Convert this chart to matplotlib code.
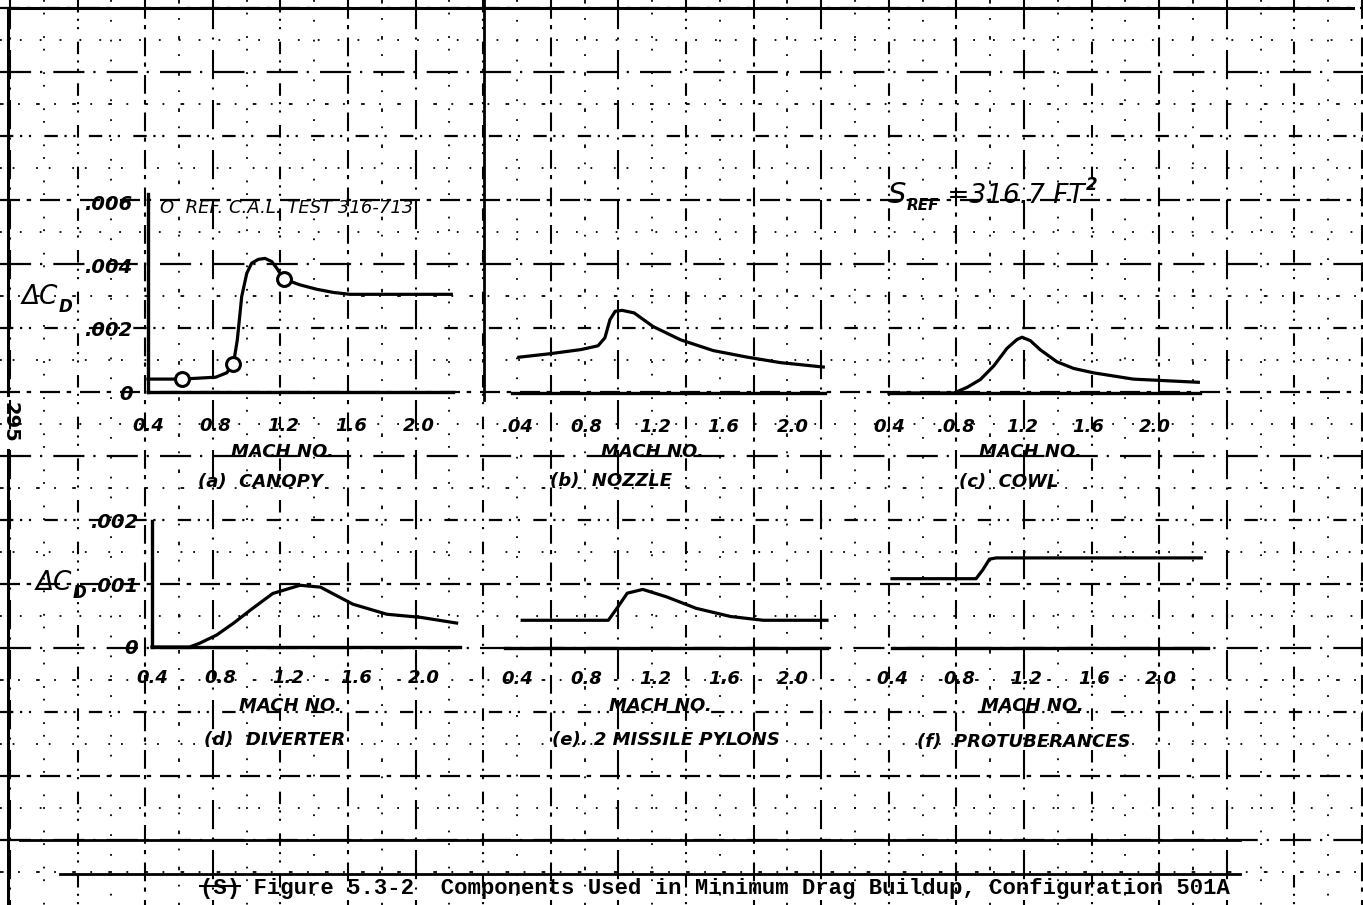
import matplotlib
matplotlib.use("Agg")
import matplotlib.pyplot as plt
import numpy as np

plt.rcParams['font.family'] = ['Liberation Sans Narrow', 'DejaVu Sans']
plt.rcParams['font.style'] = 'italic'
plt.rcParams['font.weight'] = 'bold'

W, H = 1363, 905

# ---- data (Mach no. vs delta CD) ----
mach_ticks = [0.4, 0.8, 1.2, 1.6, 2.0]

# (a) canopy
mach_a = [0.4, 0.6, 0.8, 0.865, 0.904, 0.927, 0.953, 0.983, 1.012, 1.051, 1.091,
          1.13, 1.16, 1.2, 1.297, 1.396, 1.494, 1.592, 2.19]
cd_a = [0.00041, 0.00041, 0.00047, 0.00061, 0.00089, 0.00165, 0.00303, 0.00377,
        0.00409, 0.00421, 0.00424, 0.00414, 0.00393, 0.00359, 0.0034, 0.00326,
        0.00316, 0.0031, 0.0031]
ref_mach_a = [0.6, 0.9, 1.2]
ref_cd_a = [0.00041, 0.00089, 0.00359]
labels_a = ["0.4", "0.8", "1.2", "1.6", "2.0"]
yticks_a = [0, 0.002, 0.004, 0.006]
ylabels_a = ["0", ".002", ".004", ".006"]

# (b) nozzle
mach_b = [0.41, 0.59, 0.77, 0.87, 0.91, 0.94, 0.97, 1.01, 1.08, 1.19, 1.35, 1.54,
          1.74, 1.93, 2.18]
cd_b = [0.00113, 0.00124, 0.00137, 0.00149, 0.00174, 0.00232, 0.00258, 0.00261,
        0.00253, 0.0021, 0.00168, 0.00134, 0.00113, 0.00096, 0.00082]
labels_b = [".04", "0.8", "1.2", "1.6", "2.0"]

# (c) cowl
mach_c = [0.4, 0.79, 0.87, 0.95, 1.03, 1.11, 1.17, 1.2, 1.25, 1.31, 1.41, 1.51,
          1.63, 1.87, 2.26]
cd_c = [0.0, 0.0, 0.00018, 0.00043, 0.00086, 0.00142, 0.0017, 0.00177, 0.00166,
        0.00137, 0.00099, 0.00078, 0.00064, 0.00044, 0.00034]
labels_c = ["0.4", ".0.8", "1.2", "1.6", "2.0"]

# (d) diverter
mach_d = [0.4, 0.62, 0.68, 0.78, 0.88, 0.98, 1.11, 1.27, 1.39, 1.58, 1.78, 1.98, 2.19]
cd_d = [0.0, 0.0, 0.00006, 0.00019, 0.00038, 0.00059, 0.00085, 0.00098, 0.00095,
        0.00068, 0.00052, 0.00047, 0.00038]
labels_d = ["0.4", "0.8", "1.2", "1.6", "2.0"]
yticks_d = [0, 0.001, 0.002]
ylabels_d = ["0", ".001", ".002"]

# (e) 2 missile pylons
mach_e = [0.43, 0.93, 0.98, 1.04, 1.13, 1.27, 1.44, 1.64, 1.83, 2.2]
cd_e = [0.00044, 0.00044, 0.00063, 0.00087, 0.00093, 0.00081, 0.00063, 0.0005,
        0.00044, 0.00044]
labels_e = ["0.4", "0.8", "1.2", "1.6", "2.0"]

# (f) protuberances
mach_f = [0.4, 0.9, 0.94, 0.98, 1.02, 2.24]
cd_f = [0.0011, 0.0011, 0.00124, 0.00141, 0.00143, 0.00143]
labels_f = ["0.4", "0.8", "1.2", "1.6", "2.0"]

fig = plt.figure(figsize=(W / 100, H / 100), dpi=100)
fig.patch.set_facecolor('white')

# background "graph paper" axes in pixel coordinates
bg = fig.add_axes([0, 0, 1, 1])
bg.set_xlim(0, W)
bg.set_ylim(H, 0)
bg.axis('off')

major_styles = [(0, (9, 3, 2, 4)), (0, (14, 4, 1, 5)), (0, (6, 3, 1, 3, 1, 6))]
minor_styles = [(0, (1, 10)), (0, (2, 8, 1, 9)), (0, (1, 6, 1, 12))]
for k, y in enumerate(np.arange(8, 880, 32)):
    if k % 2 == 0:
        bg.plot([0, W], [y, y], color='black', lw=1.6,
                ls=major_styles[k // 2 % 3], zorder=0)
    else:
        bg.plot([0, W], [y, y], color='black', lw=1.3,
                ls=minor_styles[k // 2 % 3], zorder=0)
for k, x in enumerate(np.arange(10, W, 33.8)):
    if k % 2 == 0:
        bg.plot([x, x], [0, H], color='black', lw=1.5,
                ls=major_styles[(k // 2 + 1) % 3], zorder=0)
    else:
        bg.plot([x, x], [0, H], color='black', lw=1.3,
                ls=minor_styles[(k // 2 + 2) % 3], zorder=0)
# page frame / heavy bottom form lines
bg.plot([8, 8], [8, 395], color='black', lw=2.2)
bg.plot([8, 8], [450, H], color='black', lw=2.2)
bg.plot([8, W - 10], [8, 8], color='black', lw=2.2)
bg.plot([20, 1240], [840, 840], color='black', lw=2.0)
bg.plot([60, 1240], [874, 874], color='black', lw=2.0)
bg.plot([484, 484], [0, 400], color='black', lw=2.0)


def panel(x0, x1, y_top, y_bot, xlim, ylim, xlabels, pad, left=False):
    ax = fig.add_axes([x0 / W, 1 - y_bot / H, (x1 - x0) / W, (y_bot - y_top) / H])
    ax.patch.set_visible(False)
    ax.set_xlim(*xlim)
    ax.set_ylim(*ylim)
    for s in ['top', 'right']:
        ax.spines[s].set_visible(False)
    ax.spines['left'].set_visible(left)
    ax.spines['bottom'].set_linewidth(2.4)
    ax.spines['left'].set_linewidth(2.4)
    ax.set_xticks(mach_ticks)
    ax.set_xticklabels(xlabels)
    ax.tick_params(axis='x', length=0, pad=pad, labelsize=13)
    ax.set_yticks([])
    return ax


curve = dict(color='black', lw=2.3, solid_joinstyle='round', clip_on=False)

ax_a = panel(148, 453, 193.5, 392, (0.4, 2.2), (0, 0.0063), labels_a, 18, left=True)
ax_a.plot(mach_a, cd_a, **curve)
ax_a.plot(ref_mach_a, ref_cd_a, 'o', ms=10, mfc='white', mec='black', mew=2.2,
          clip_on=False)
ax_a.set_yticks(yticks_a)
ax_a.set_yticklabels(ylabels_a)
ax_a.tick_params(axis='y', length=0, pad=11, labelsize=14)

ax_b = panel(512, 825, 193.5, 393, (0.37, 2.19), (0, 0.0063), labels_b, 18)
ax_b.plot(mach_b, cd_b, **curve)

ax_c = panel(889, 1200, 194.5, 393, (0.4, 2.27), (0, 0.0063), labels_c, 18)
ax_c.plot(mach_c, cd_c, **curve)

ax_d = panel(152, 460, 521, 647, (0.4, 2.21), (0, 0.002), labels_d, 16, left=True)
ax_d.plot(mach_d, cd_d, **curve)
ax_d.set_yticks(yticks_d)
ax_d.set_yticklabels(ylabels_d)
ax_d.tick_params(axis='y', length=0, pad=10, labelsize=14)

ax_e = panel(505, 827, 522, 648, (0.33, 2.2), (0, 0.002), labels_e, 16)
ax_e.plot(mach_e, cd_e, **curve)

ax_f = panel(892, 1208, 522, 648, (0.4, 2.28), (0, 0.002), labels_f, 16)
ax_f.plot(mach_f, cd_f, **curve)

# ---- annotations (pixel coordinates) ----
txt = dict(ha='center', va='center', fontsize=13, color='black')
for x, y in [(282, 452), (652, 452), (1030, 452), (290, 706), (660, 706), (1032, 706)]:
    bg.text(x, y, "MACH NO.", **txt)
bg.text(260, 482, "(a)  CANOPY", **txt)
bg.text(611, 481, "(b)  NOZZLE", **txt)
bg.text(1009, 482, "(c)  COWL", **txt)
bg.text(275, 740, "(d)  DIVERTER", **txt)
bg.text(666, 740, "(e). 2 MISSILE PYLONS", **txt)
bg.text(1024, 742, "(f)  PROTUBERANCES", **txt)

bg.text(160, 208, "O  REF. C.A.L. TEST 316-713", ha='left', va='center',
        fontsize=13, style='italic', fontweight='normal')

# S_REF = 316.7 FT^2
t = bg.text(888, 203, "S", ha='left', va='baseline', fontsize=21,
            fontweight='normal')
t2 = bg.annotate("REF", xy=(1, 0), xycoords=t, xytext=(0, -3),
                 textcoords='offset points', ha='left', va='bottom', fontsize=11)
t3 = bg.annotate(" =316.7 FT", xy=(1, 0), xycoords=t2, xytext=(0, 3),
                 textcoords='offset points', ha='left', va='bottom', fontsize=19,
                 fontweight='normal')
bg.annotate("2", xy=(1, 1), xycoords=t3, xytext=(1, -8),
            textcoords='offset points', ha='left', va='bottom', fontsize=12)

# delta C_D labels
for x, y in [(22, 304), (36, 590)]:
    d = bg.text(x, y, "ΔC", ha='left', va='baseline', fontsize=19, fontweight='normal')
    bg.annotate("D", xy=(1, 0), xycoords=d, xytext=(0, -4),
                textcoords='offset points', ha='left', va='bottom', fontsize=12)

bg.text(10, 422, "295", rotation=-90, ha='center', va='center', fontsize=14,
        style='normal', fontweight='bold', family='DejaVu Sans')

# caption
bg.text(200, 888, "(S) Figure 5.3-2  Components Used in Minimum Drag Buildup, "
        "Configuration 501A", ha='left', va='center', fontsize=16, style='normal',
        fontweight='bold', family=['Liberation Mono', 'DejaVu Sans Mono'])
bg.plot([200, 240], [886, 886], color='black', lw=1.5)

fig.savefig("out.png", dpi=100, facecolor='white')
